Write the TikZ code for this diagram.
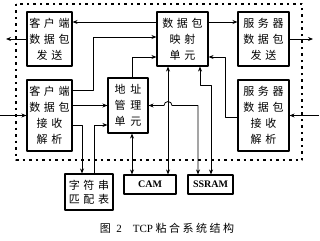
\documentclass[tikz,border=0pt]{standalone}
\usepackage{fontspec}
\setmainfont{Liberation Serif}
\newfontfamily\cjk[WordSpace=1.5]{Noto Sans CJK SC}
\usetikzlibrary{arrows.meta}

\begin{document}
\begin{tikzpicture}[x=1pt, y=-1pt, line join=round,
    unit/.style={draw, line width=1.1pt, align=center, inner sep=0pt,
        font=\cjk\fontsize{11}{16}\selectfont},
    mem/.style={draw, line width=1.1pt, inner sep=0pt,
        font=\bfseries\fontsize{10}{12}\selectfont},
    link/.style={line width=0.8pt, -{Stealth[length=5pt, width=4pt]}},
    both/.style={line width=0.8pt,
        {Stealth[length=5pt, width=4pt]}-{Stealth[length=5pt, width=4pt]}}]

    \useasboundingbox (0,0) rectangle (320,240);

    % system boundary
    \draw[line width=1.2pt, dash pattern=on 2.5pt off 4pt] (16,4) rectangle (302,160);

    % units (pixel coordinates, y down)
    \node[unit, minimum width=45pt, minimum height=54pt] (csend) at (49.5,39)
        {客 户 端\\数 据 包\\发 送};
    \node[unit, minimum width=45pt, minimum height=71pt] (crecv) at (49.5,115.5)
        {客 户 端\\数 据 包\\接 收\\解 析};
    \node[unit, minimum width=40pt, minimum height=55pt] (addr) at (128,105.5)
        {地\hspace{5pt}址\\管\hspace{5pt}理\\单\hspace{5pt}元};
    \node[unit, minimum width=51pt, minimum height=54pt] (map) at (182.5,39)
        {数 据 包\\映 射\\单 元};
    \node[unit, minimum width=51pt, minimum height=54pt] (ssend) at (263.5,39)
        {服 务 器\\数 据 包\\发 送};
    \node[unit, minimum width=51pt, minimum height=71pt] (srecv) at (263.5,115.5)
        {服 务 器\\数 据 包\\接 收\\解 析};

    % outside the boundary
    \node[unit, minimum width=48pt, minimum height=36pt, font=\cjk\fontsize{11}{14}\selectfont]
        (strtab) at (89,192) {字 符 串\\匹 配 表};
    \node[mem, minimum width=52pt, minimum height=19pt] (cam) at (150,184.5) {CAM};
    \node[mem, minimum width=45pt, minimum height=19pt] (ssram) at (210.5,184.5) {SSRAM};

    % free ends and bends
    \coordinate (cout) at (6,39);
    \coordinate (cin) at (0,115.5);
    \coordinate (sout) at (313,39);
    \coordinate (sin) at (319,115.5);
    \coordinate (c1) at (93,90);
    \coordinate (c2) at (93,37);
    \coordinate (a1) at (132,57);
    \coordinate (s1) at (225,117);
    \coordinate (s2) at (225,57);
    \coordinate (camx) at (168,170);
    \coordinate (r1) at (200,85);
    \coordinate (r2) at (211,85);
    \coordinate (h1) at (198,105.5);
    \coordinate (hop) at (172,105.5);
    \coordinate (t1) at (82,125);
    \coordinate (t2) at (94,125);

    % packet flow
    \draw[link] (cin) -- (crecv.west);
    \draw[link] (csend.west) -- (cout);
    \draw[link] (sin) -- (srecv.east);
    \draw[link] (ssend.east) -- (sout);
    \draw[link] ([yshift=17pt]map.west) -- ([yshift=17pt]csend.east);
    \draw[link] ([yshift=17pt]map.east) -- ([yshift=17pt]ssend.west);
    \draw[link] (crecv.east |- c1) -- (c1) -- (c2) -- (map.west |- c2);
    \draw[link] (crecv.east |- addr.west) -- (addr.west);
    \draw[link] (addr.north -| a1) -- (a1) -- (map.west |- a1);
    \draw[link] (srecv.west |- s1) -- (s1) -- (s2) -- (map.east |- s2);

    % memories
    \draw[both] (map.south -| camx) -- (cam.north -| camx);
    \draw[both] (addr.south -| a1) -- (cam.north -| a1);
    \draw[both] (map.south -| r1) -- (r1) -- (r2) -- (ssram.north -| r2);
    \draw[both] (ssram.north -| h1) -- (h1) -- (hop)
        arc[start angle=0, end angle=180, radius=4pt] -- (addr.east);

    % string table
    \draw[link] (crecv.east |- t1) -- (t1) -- (strtab.north -| t1);
    \draw[link] (strtab.north -| t2) -- (t2) -- (addr.west |- t2);

    % caption
    \node[font=\fontsize{11}{13}\selectfont] (cap) at (167,228)
        {{\cjk 图}\ \ 2\ \ \ \ TCP\ {\cjk 粘\hspace{2.5pt}合\hspace{2.5pt}系\hspace{2.5pt}统\hspace{2.5pt}结\hspace{2.5pt}构}};

\end{tikzpicture}
\end{document}
